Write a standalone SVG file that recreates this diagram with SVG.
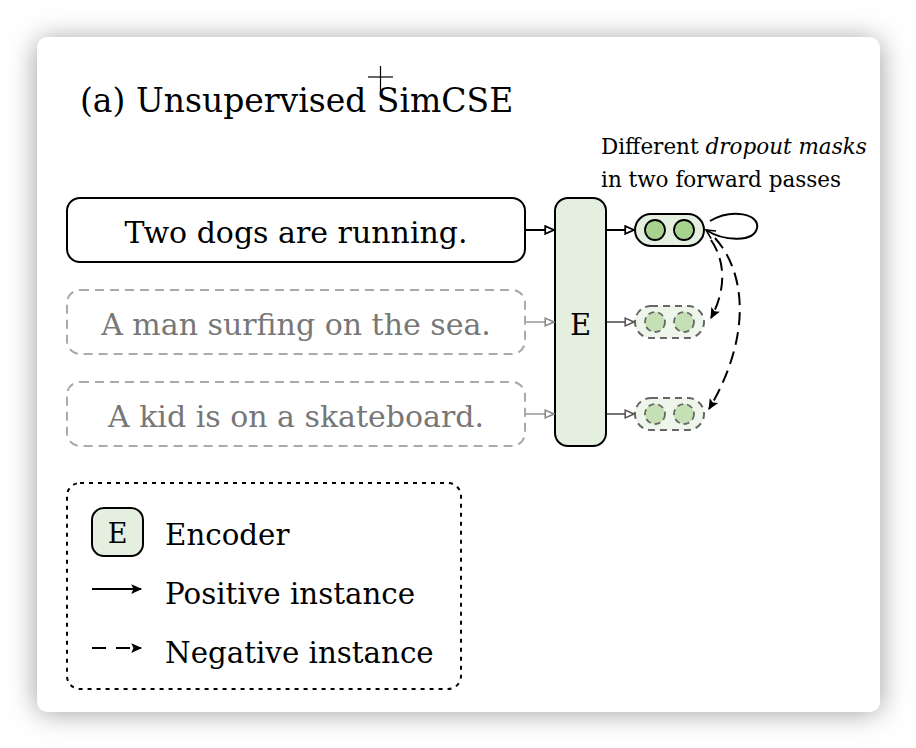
<svg xmlns="http://www.w3.org/2000/svg" width="916" height="748" viewBox="0 0 916 748">
<defs>
<filter id="shadow" x="-10%" y="-10%" width="120%" height="120%">
<feGaussianBlur stdDeviation="14"/>
</filter>
<marker id="openTri" viewBox="0 0 10 10" refX="9" refY="5" markerWidth="11" markerHeight="11" markerUnits="userSpaceOnUse" orient="auto">
<path d="M1,1.5 L9,5 L1,8.5 Z" fill="#ffffff" stroke="#000" stroke-width="1.6"/>
</marker>
<marker id="openTriGray" viewBox="0 0 10 10" refX="9" refY="5" markerWidth="11" markerHeight="11" markerUnits="userSpaceOnUse" orient="auto">
<path d="M1,1.5 L9,5 L1,8.5 Z" fill="#ffffff" stroke="#888" stroke-width="1.4"/>
</marker>
<marker id="openTriDark" viewBox="0 0 10 10" refX="9" refY="5" markerWidth="11" markerHeight="11" markerUnits="userSpaceOnUse" orient="auto">
<path d="M1,1.5 L9,5 L1,8.5 Z" fill="#ffffff" stroke="#555" stroke-width="1.4"/>
</marker>
<marker id="filled" viewBox="0 0 12 12" refX="10" refY="6" markerWidth="13" markerHeight="13" markerUnits="userSpaceOnUse" orient="auto">
<path d="M1,1.5 L11,6 L1,10.5 L3,6 Z" fill="#000"/>
</marker>
<marker id="loopHead" viewBox="0 0 12 12" refX="10" refY="6" markerWidth="12" markerHeight="12" markerUnits="userSpaceOnUse" orient="auto">
<path d="M1,1.5 L10,6 L1,10.5" fill="none" stroke="#000" stroke-width="1.6"/>
</marker>
</defs>
<style>
text { font-family: "DejaVu Serif", "Liberation Serif", serif; }
.title { font-size: 33px; fill: #000; }
.note { font-size: 21.5px; fill: #000; }
.sent { font-size: 30px; text-anchor: middle; }
.legend { font-size: 29.3px; fill: #000; }
.solidBox { fill: #fff; stroke: #000; stroke-width: 2; }
.dashBox { fill: #fff; stroke: #aaa; stroke-width: 2; stroke-dasharray: 9 6; }
.enc { fill: #e4efe0; stroke: #000; stroke-width: 2; }
.pillSolid { fill: #e4efe0; stroke: #000; stroke-width: 2; }
.pillDash { fill: #eef5eb; stroke: #666; stroke-width: 2; stroke-dasharray: 7 5; }
.dotSolid { fill: #a8d38f; stroke: #000; stroke-width: 1.8; }
.dotDash { fill: #c6e0b5; stroke: #666; stroke-width: 1.8; stroke-dasharray: 6 4; }
.conn { fill: none; stroke: #000; stroke-width: 2; }
.connGray { fill: none; stroke: #999; stroke-width: 1.5; }
.connDark { fill: none; stroke: #666; stroke-width: 1.8; }
.neg { fill: none; stroke: #000; stroke-width: 2; stroke-dasharray: 13 7; }
</style>
<rect width="916" height="748" fill="#ffffff"/>
<rect x="37" y="40" width="843" height="672" rx="10" fill="#9a9a9a" filter="url(#shadow)"/>
<rect x="37" y="37" width="843" height="675" rx="10" fill="#ffffff"/>

<text class="title" x="80" y="112">(a) Unsupervised SimCSE</text>
<g id="cursor" stroke="#000" stroke-width="1.2">
<line x1="368" y1="77" x2="393" y2="77"/>
<line x1="380.5" y1="66" x2="380.5" y2="91"/>
</g>

<g id="annotation">
<text class="note" x="601" y="154">Different <tspan font-style="italic">dropout masks</tspan></text>
<text class="note" x="601" y="187">in two forward passes</text>
</g>

<g id="sent1">
<rect class="solidBox" x="67" y="198" width="458" height="64" rx="13"/>
<text class="sent" x="296" y="243" fill="#000">Two dogs are running.</text>
</g>
<g id="sent2">
<rect class="dashBox" x="67" y="290" width="458" height="64" rx="13"/>
<text class="sent" x="296" y="335" fill="#777">A man surfing on the sea.</text>
</g>
<g id="sent3">
<rect class="dashBox" x="67" y="382" width="458" height="64" rx="13"/>
<text class="sent" x="296" y="427" fill="#777">A kid is on a skateboard.</text>
</g>

<g id="encoder">
<rect class="enc" x="555" y="198" width="51" height="248" rx="13"/>
<text x="580.5" y="335" font-size="29" text-anchor="middle" fill="#000">E</text>
</g>

<g id="out1">
<rect class="pillSolid" x="635" y="214" width="69" height="32" rx="16"/>
<circle class="dotSolid" cx="655" cy="230" r="10"/>
<circle class="dotSolid" cx="684" cy="230" r="10"/>
</g>
<g id="out2">
<rect class="pillDash" x="635" y="306" width="69" height="32" rx="16"/>
<circle class="dotDash" cx="655" cy="322" r="10"/>
<circle class="dotDash" cx="684" cy="322" r="10"/>
</g>
<g id="out3">
<rect class="pillDash" x="635" y="398" width="69" height="32" rx="16"/>
<circle class="dotDash" cx="655" cy="414" r="10"/>
<circle class="dotDash" cx="684" cy="414" r="10"/>
</g>

<g id="connectors">
<line class="conn" x1="526" y1="230" x2="554" y2="230" marker-end="url(#openTri)"/>
<line class="connGray" x1="526" y1="322" x2="554" y2="322" marker-end="url(#openTriGray)"/>
<line class="connGray" x1="526" y1="414" x2="554" y2="414" marker-end="url(#openTriGray)"/>
<line class="conn" x1="607" y1="230" x2="634" y2="230" marker-end="url(#openTri)"/>
<line class="connDark" x1="607" y1="322" x2="634" y2="322" marker-end="url(#openTriDark)"/>
<line class="connDark" x1="607" y1="414" x2="634" y2="414" marker-end="url(#openTriDark)"/>
<path class="conn" d="M710,221 C732,208 760,214 757,228 C754,242 725,242 706,230" marker-end="url(#loopHead)"/>
<path class="neg" d="M711,240 C726,262 726,290 711,318" marker-end="url(#filled)"/>
<path class="neg" d="M715,238 C748,275 750,340 709,409" marker-end="url(#filled)"/>
</g>

<g id="legend">
<rect x="67" y="483" width="394" height="206" rx="13" fill="none" stroke="#000" stroke-width="2" stroke-dasharray="4 5"/>
<rect class="enc" x="92" y="508" width="51" height="48" rx="12"/>
<text x="117.5" y="543" font-size="27" text-anchor="middle" fill="#000">E</text>
<text class="legend" x="165" y="545">Encoder</text>
<line class="conn" x1="92" y1="589" x2="141" y2="589" marker-end="url(#filled)"/>
<text class="legend" x="165" y="604">Positive instance</text>
<line class="conn" x1="92" y1="648" x2="141" y2="648" stroke-dasharray="14 10" marker-end="url(#filled)"/>
<text class="legend" x="165" y="663">Negative instance</text>
</g>
</svg>
